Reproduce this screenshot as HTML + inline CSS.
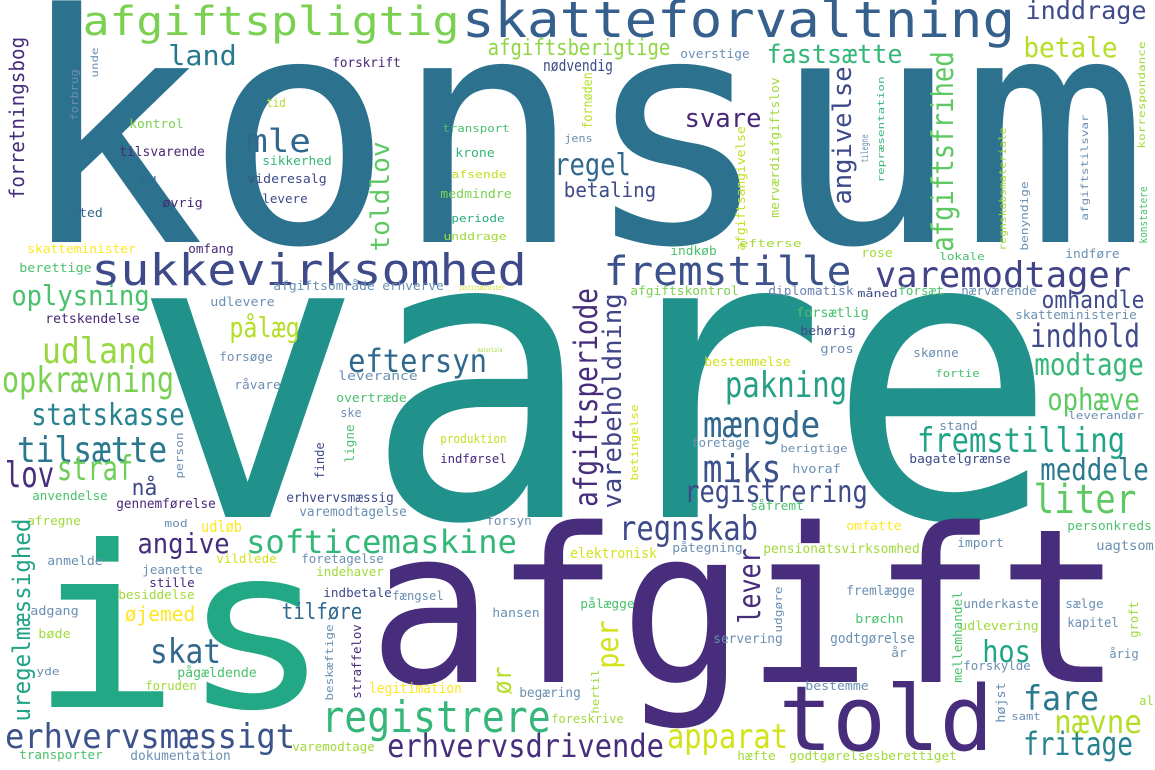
<!DOCTYPE html>
<html><head><meta charset="utf-8"><title>Word cloud</title>
<style>
html,body{margin:0;padding:0;background:#fff;}
#wrap{width:1155px;height:770px;overflow:hidden;background:#fff;}
svg text{font-family:"DejaVu Sans Mono","Liberation Mono",monospace;}
</style></head>
<body>
<div id="wrap">
<svg id="cloud" width="1155" height="770" viewBox="0 0 1155 770" xmlns="http://www.w3.org/2000/svg"></svg>
</div>
<script>
// word, x-start, x-end (or bottom/top for vertical), baseline, font size, colour, orientation
const wordsH = [
["konsum",35,1130,242,318,"#2c728e"],
["vare",156,1034,517,400,"#21918c"],
["afgift",381,1110,682,215,"#472d7b"],
["is",43,318,707,225,"#22a884"],
["told",784,988,750,90,"#472d7b"],
["afgiftspligtig",85,457,35,40,"#7ad151"],
["skatteforvaltning",465,1012,37,50,"#355f8d"],
["land",170,235,65,28,"#2a788e"],
["afgiftsberigtige",489,669,55,22,"#8fd744"],
["nødvendig",544,612,71,16,"#3e4a89"],
["forskrift",333,400,67,13,"#482475"],
["tid",267,285,107,12,"#b5de2b"],
["kontrol",130,183,128,12,"#7ad151"],
["mle",248,309,152,32,"#31688e"],
["tilsvarende",120,204,156,13,"#482878"],
["sikkerhed",263,331,165,12,"#35b779"],
["eu",141,156,182,11,"#31688e"],
["videresalg",248,326,183,12,"#3e4989"],
["øvrig",163,202,207,12,"#482878"],
["levere",263,307,203,12,"#3e4989"],
["sted",72,102,217,12,"#31688e"],
["skatteminister",28,135,253,12,"#fde725"],
["omfang",189,233,253,12,"#482878"],
["transport",443,509,132,11,"#4ac16d"],
["krone",456,494,157,12,"#35b779"],
["afsende",452,506,178,11,"#c2df23"],
["medmindre",441,511,198,12,"#7ad151"],
["periode",452,504,222,11,"#25ab82"],
["unddrage",444,506,240,11,"#a0da39"],
["regel",556,629,175,30,"#31688e"],
["betaling",565,655,197,20,"#3e4a89"],
["jens",565,592,142,11,"#6b8fb3"],
["inddrage",1027,1145,19,25,"#3e4a89"],
["betale",1025,1116,57,28,"#b5de2b"],
["fastsætte",768,901,63,26,"#35b779"],
["overstige",681,749,58,12,"#6b8fb3"],
["svare",686,760,127,26,"#482878"],
["efterse",740,801,247,11,"#a0da39"],
["indkøb",671,716,255,12,"#4ac16d"],
["rose",862,892,257,12,"#a0da39"],
["lokale",940,984,260,11,"#4ac16d"],
["indføre",1066,1119,258,12,"#6b8fb3"],
["fremstille",606,849,285,40,"#3b528b"],
["varemodtager",877,1129,287,36,"#414487"],
["afgiftskontrol",631,738,295,12,"#7ad151"],
["diplomatisk",769,853,295,12,"#6b7fb3"],
["måned",858,897,297,11,"#3e4a89"],
["forsæt",899,943,295,12,"#4ac16d"],
["nærværende",962,1036,295,12,"#6b8fb3"],
["omhandle",1043,1143,308,24,"#3e4a89"],
["forsætlig",797,868,317,13,"#4ac16d"],
["skatteministerie",1016,1136,319,12,"#6b8fb3"],
["behørig",801,855,335,12,"#3e4a89"],
["indhold",1032,1138,347,32,"#3e4a89"],
["gros",821,853,353,12,"#6b8fb3"],
["skønne",914,958,357,12,"#6b8fb3"],
["bestemmelse",705,790,366,12,"#d2e21b"],
["fortie",936,979,377,11,"#4ac16d"],
["modtage",1036,1142,375,30,"#35b779"],
["pakning",727,845,397,36,"#25a087"],
["ophæve",1049,1138,410,30,"#5ec962"],
["leverandør",1069,1143,419,11,"#6b8fb3"],
["mængde",705,818,437,36,"#31688e"],
["stand",940,977,430,12,"#6b8fb3"],
["fremstilling",919,1123,452,34,"#20a386"],
["foretage",692,749,447,12,"#6b8fb3"],
["berigtige",781,847,452,11,"#6b8fb3"],
["bagatelgrænse",910,1010,463,12,"#3e4a89"],
["miks",705,779,482,38,"#3b528b"],
["hvoraf",793,840,473,12,"#6b8fb3"],
["meddele",1042,1147,480,30,"#2a788e"],
["registrering",686,866,502,30,"#3e4a89"],
["liter",1036,1134,513,40,"#5ec962"],
["såfremt",751,803,510,12,"#4ac16d"],
["berettige",20,91,272,12,"#4ac16d"],
["sukkevirksomhed",94,524,285,44,"#3e4a89"],
["oplysning",13,148,305,28,"#4ac16d"],
["udlevere",211,274,306,12,"#6b8fb3"],
["afgiftsområde",274,374,290,12,"#6b8fb3"],
["erhverve",383,443,290,12,"#6b8fb3"],
["justitsminister",459,504,290,7,"#d2e21b"],
["retskendelse",46,139,323,13,"#482878"],
["pålæg",231,298,337,28,"#b5de2b"],
["udland",44,154,363,36,"#95d840"],
["materiale",478,502,352,6,"#a0da39"],
["eftersyn",350,485,372,32,"#31688e"],
["forsøge",220,272,361,12,"#6b8fb3"],
["leverance",339,417,380,12,"#6b8fb3"],
["opkrævning",4,172,392,36,"#7ad151"],
["råvare",235,280,389,12,"#6b8fb3"],
["overtræde",337,406,402,12,"#4ac16d"],
["ske",341,361,417,12,"#6b8fb3"],
["statskasse",33,183,425,30,"#26828e"],
["produktion",441,506,443,12,"#c2df23"],
["tilsætte",19,165,462,36,"#2a788e"],
["indførsel",441,506,463,12,"#482878"],
["lov",7,52,487,36,"#472d7b"],
["straf",59,131,480,34,"#6ece58"],
["nå",133,156,495,22,"#3e4a89"],
["anvendelse",33,107,500,12,"#4ac16d"],
["erhvervsmæssig",287,393,502,13,"#3e4a89"],
["gennemførelse",117,215,508,13,"#482878"],
["varemodtagelse",300,406,516,13,"#6b8fb3"],
["afregne",28,80,525,12,"#a0da39"],
["mod",165,187,527,11,"#6b8fb3"],
["udløb",202,241,532,16,"#fde725"],
["forsyn",487,531,525,12,"#6b8fb3"],
["angive",139,228,553,28,"#472d7b"],
["softicemaskine",248,515,553,32,"#35b779"],
["anmelde",48,102,565,12,"#6b8fb3"],
["vildlede",217,276,563,12,"#d2e21b"],
["foretagelse",302,383,563,12,"#6b8fb3"],
["jeanette",143,202,574,12,"#6b8fb3"],
["indehaver",317,383,576,12,"#a0da39"],
["stille",150,194,587,12,"#482878"],
["indbetale",324,391,597,12,"#3e4a89"],
["fængsel",393,443,600,12,"#6b8fb3"],
["besiddelse",119,194,599,12,"#a0da39"],
["adgang",31,78,615,12,"#6b8fb3"],
["øjemed",126,194,621,20,"#fde725"],
["tilføre",283,361,619,22,"#31688e"],
["hansen",493,539,617,12,"#6b8fb3"],
["bøde",39,70,638,12,"#a0da39"],
["skat",152,219,663,34,"#31688e"],
["yde",37,59,675,11,"#6b8fb3"],
["pågældende",178,256,677,13,"#4ac16d"],
["foruden",146,196,690,12,"#a0da39"],
["legitimation",370,461,693,14,"#fde725"],
["begæring",520,580,697,13,"#6b8fb3"],
["registrere",324,548,732,44,"#35b779"],
["erhvervsmæssigt",7,293,748,34,"#3b528b"],
["varemodtage",293,374,751,12,"#a0da39"],
["erhvervsdrivende",389,662,757,32,"#472d7b"],
["transporter",20,102,759,12,"#4ac16d"],
["dokumentation",131,230,760,13,"#6b8fb3"],
["foreskrive",552,623,723,12,"#a0da39"],
["regnskab",621,756,540,34,"#3e4a89"],
["omfatte",847,901,530,12,"#fde725"],
["personkreds",1068,1151,530,12,"#4ac16d"],
["elektronisk",571,656,558,14,"#d2e21b"],
["påtegning",673,742,552,12,"#6b8fb3"],
["pensionatsvirksomhed",764,919,553,13,"#a0da39"],
["import",958,1003,547,12,"#6b8fb3"],
["uagtsom",1097,1153,550,13,"#6b8fb3"],
["fremlægge",847,914,595,13,"#6b8fb3"],
["pålægge",581,634,608,12,"#4ac16d"],
["underkaste",964,1038,608,12,"#6b8fb3"],
["sælge",1066,1103,608,12,"#6b8fb3"],
["brøchn",856,903,623,12,"#4ac16d"],
["udlevering",960,1038,630,12,"#a0da39"],
["kapitel",1068,1118,627,13,"#6b8fb3"],
["servering",714,782,643,13,"#6b8fb3"],
["godtgørelse",831,914,643,14,"#6b8fb3"],
["hos",984,1029,662,30,"#20a386"],
["år",892,906,657,12,"#6b8fb3"],
["årig",1110,1138,658,12,"#6b8fb3"],
["forskylde",964,1030,670,12,"#6b8fb3"],
["bestemme",806,868,690,12,"#6b8fb3"],
["al",1140,1153,705,12,"#a0da39"],
["fare",1025,1097,710,34,"#2a788e"],
["samt",1012,1040,720,11,"#6b8fb3"],
["nævne",1056,1140,733,32,"#b5de2b"],
["apparat",669,786,748,34,"#d2e21b"],
["fritage",1025,1131,755,32,"#26828e"],
["hæfte",738,775,760,12,"#a0da39"],
["godtgørelsesberettiget",790,956,760,12,"#a0da39"]
];
// word, baseline-x, bottom-y, top-y, font size, colour (rotated -90)
const wordsV = [
["forretningsbog",24,198,38,20,"#472d7b"],
["forbrug",78,120,70,11,"#6b8fb3"],
["unde",98,77,48,10,"#6b8fb3"],
["toldlov",389,250,143,26,"#5ec962"],
["angivelse",851,203,68,26,"#3e4a89"],
["afgiftsfrihed",953,250,53,30,"#5ec962"],
["fornøden",592,128,73,13,"#b5de2b"],
["afgiftsangivelse",745,250,127,12,"#c2df23"],
["merværdiafgiftslov",779,217,78,12,"#a0da39"],
["tilegne",868,162,135,10,"#6b8fb3"],
["repræsentation",884,182,77,9,"#35b779"],
["regnskabsmateriale",1006,250,128,10,"#a0da39"],
["benyndige",1028,250,182,11,"#6b8fb3"],
["afgiftstilsvar",1088,220,115,10,"#6b8fb3"],
["korrespondance",1145,148,42,10,"#a0da39"],
["konstatere",1147,243,187,11,"#4ac16d"],
["varebeholdning",621,507,295,26,"#414487"],
["afgiftsperiode",597,505,290,32,"#472d7b"],
["betingelse",638,480,405,11,"#d2e21b"],
["person",183,478,433,11,"#6b8fb3"],
["finde",324,478,443,12,"#3e4a89"],
["ligne",354,462,425,12,"#4ac16d"],
["uregelmæssighed",30,720,520,24,"#20a386"],
["beskæftige",333,700,625,11,"#6b8fb3"],
["straffelov",361,698,625,12,"#482878"],
["ør",511,693,668,26,"#b5de2b"],
["per",618,667,622,30,"#d2e21b"],
["lever",760,622,550,30,"#472d7b"],
["udgøre",782,632,587,11,"#6b8fb3"],
["mellemhandel",962,682,592,12,"#4ac16d"],
["groft",1138,637,602,12,"#a0da39"],
["hertil",599,713,670,11,"#a0da39"],
["højst",1005,722,683,12,"#6b8fb3"]
];
const NS = "http://www.w3.org/2000/svg";
const svg = document.getElementById("cloud");
function slug(s){return s.normalize("NFD").replace(/[^\w]/g,"").toLowerCase();}
wordsH.forEach(function(w){
  const t = document.createElementNS(NS,"text");
  const pad = w[4]*0.06;
  t.setAttribute("x", w[1]-pad);
  t.setAttribute("y", w[3]);
  t.setAttribute("font-size", w[4]);
  t.setAttribute("fill", w[5]);
  t.setAttribute("textLength", (w[2]-w[1])+2*pad);
  t.setAttribute("lengthAdjust","spacingAndGlyphs");
  t.textContent = w[0];
  
  
  svg.appendChild(t);
});
wordsV.forEach(function(w){
  const t = document.createElementNS(NS,"text");
  const pad = w[4]*0.06;
  t.setAttribute("transform","translate("+w[1]+","+w[2]+") rotate(-90)");
  t.setAttribute("x", -pad);
  t.setAttribute("y", 0);
  t.setAttribute("font-size", w[4]);
  t.setAttribute("fill", w[5]);
  t.setAttribute("textLength", (w[2]-w[3])+2*pad);
  t.setAttribute("lengthAdjust","spacingAndGlyphs");
  t.textContent = w[0];
  
  
  svg.appendChild(t);
});
</script>
</body></html>
